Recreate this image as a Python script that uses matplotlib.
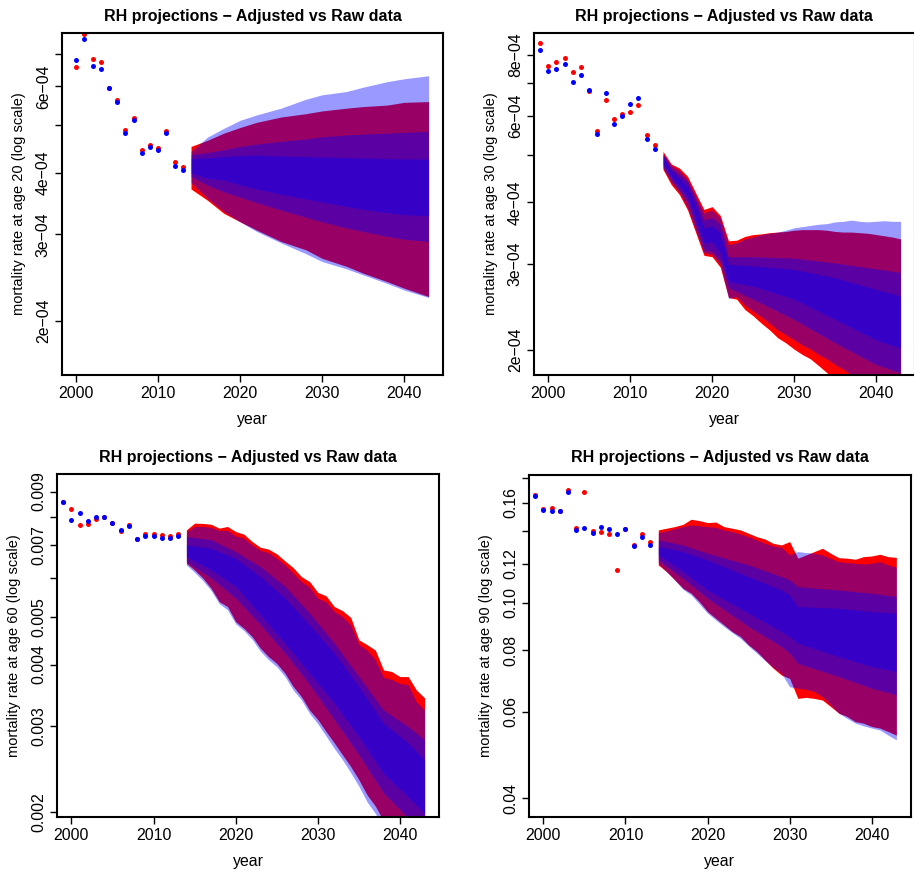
#%%
import matplotlib
matplotlib.use("Agg")
import matplotlib.pyplot as plt
from matplotlib.ticker import NullLocator

# %% Data
# red = raw data, blue = adjusted data
# observed rates plus projection fans (outer edges and two inner bands of the blue fan)

# ---- age 20
age20_obs_years = [2000, 2001, 2002, 2003, 2004, 2005, 2006, 2007, 2008, 2009, 2010, 2011, 2012, 2013]
age20_raw = [6.58e-4, 7.68e-4, 6.83e-4, 6.74e-4, 5.96e-4, 5.63e-4, 4.90e-4, 5.18e-4, 4.46e-4, 4.55e-4, 4.49e-4, 4.86e-4, 4.21e-4, 4.11e-4]
age20_adj = [6.80e-4, 7.48e-4, 6.59e-4, 6.51e-4, 5.96e-4, 5.58e-4, 4.83e-4, 5.12e-4, 4.40e-4, 4.51e-4, 4.45e-4, 4.82e-4, 4.13e-4, 4.06e-4]

age20_fan_years = [2014, 2016, 2018, 2020, 2022, 2025, 2028, 2030, 2033, 2035, 2038, 2040, 2043]
age20_raw_hi = [4.53e-4, 4.66e-4, 4.82e-4, 4.95e-4, 5.07e-4, 5.20e-4, 5.28e-4, 5.35e-4, 5.42e-4, 5.46e-4, 5.50e-4, 5.57e-4, 5.59e-4]
age20_raw_lo = [3.71e-4, 3.52e-4, 3.31e-4, 3.18e-4, 3.06e-4, 2.90e-4, 2.79e-4, 2.68e-4, 2.58e-4, 2.50e-4, 2.40e-4, 2.33e-4, 2.24e-4]
age20_adj_hi95 = [4.42e-4, 4.73e-4, 4.93e-4, 5.12e-4, 5.25e-4, 5.42e-4, 5.65e-4, 5.77e-4, 5.86e-4, 5.98e-4, 6.14e-4, 6.22e-4, 6.31e-4]
age20_adj_lo95 = [3.82e-4, 3.55e-4, 3.34e-4, 3.18e-4, 3.04e-4, 2.88e-4, 2.74e-4, 2.64e-4, 2.55e-4, 2.48e-4, 2.38e-4, 2.31e-4, 2.23e-4]
age20_band_years = age20_fan_years
age20_adj_hi80 = [4.36e-4, 4.40e-4, 4.46e-4, 4.53e-4, 4.58e-4, 4.64e-4, 4.69e-4, 4.74e-4, 4.78e-4, 4.80e-4, 4.82e-4, 4.84e-4, 4.86e-4]
age20_adj_lo80 = [3.93e-4, 3.78e-4, 3.66e-4, 3.57e-4, 3.48e-4, 3.36e-4, 3.25e-4, 3.18e-4, 3.09e-4, 3.04e-4, 2.97e-4, 2.93e-4, 2.90e-4]
age20_adj_hi50 = [4.28e-4, 4.29e-4, 4.32e-4, 4.34e-4, 4.35e-4, 4.33e-4, 4.32e-4, 4.31e-4, 4.30e-4, 4.29e-4, 4.28e-4, 4.27e-4, 4.27e-4]
age20_adj_lo50 = [4.00e-4, 3.90e-4, 3.87e-4, 3.78e-4, 3.71e-4, 3.62e-4, 3.54e-4, 3.49e-4, 3.42e-4, 3.37e-4, 3.32e-4, 3.29e-4, 3.27e-4]

age20_ylim = (1.55e-4, 7.71e-4)
age20_yticks = [2e-4, 3e-4, 4e-4, 5e-4, 6e-4, 7e-4]
age20_ylabels = ["2e\u221204", "3e\u221204", "4e\u221204", "", "6e\u221204", ""]

# ---- age 30
age30_obs_years = [1999, 2000, 2001, 2002, 2003, 2004, 2005, 2006, 2007, 2008, 2009, 2010, 2011, 2012, 2013]
age30_raw = [8.44e-4, 7.57e-4, 7.74e-4, 7.89e-4, 7.38e-4, 7.54e-4, 6.74e-4, 5.58e-4, 6.48e-4, 5.90e-4, 6.04e-4, 6.12e-4, 6.32e-4, 5.49e-4, 5.23e-4]
age30_adj = [8.19e-4, 7.41e-4, 7.49e-4, 7.65e-4, 7.04e-4, 7.28e-4, 6.79e-4, 5.51e-4, 6.67e-4, 5.78e-4, 5.99e-4, 6.35e-4, 6.52e-4, 5.38e-4, 5.14e-4]

age30_fan_years = [2014, 2015, 2016, 2017, 2018, 2019, 2020, 2021, 2022, 2023, 2024, 2025, 2026, 2027, 2028,
                   2029, 2030, 2031, 2032, 2033, 2034, 2035, 2036, 2037, 2038, 2039, 2040, 2041, 2042, 2043]
age30_raw_hi = [5.08e-4, 4.79e-4, 4.70e-4, 4.52e-4, 4.18e-4, 3.87e-4, 3.92e-4, 3.76e-4, 3.34e-4, 3.35e-4,
                3.41e-4, 3.44e-4, 3.45e-4, 3.47e-4, 3.48e-4, 3.49e-4, 3.51e-4, 3.52e-4, 3.52e-4, 3.52e-4,
                3.51e-4, 3.49e-4, 3.48e-4, 3.48e-4, 3.47e-4, 3.46e-4, 3.44e-4, 3.42e-4, 3.40e-4, 3.37e-4]
age30_raw_lo = [4.67e-4, 4.35e-4, 4.15e-4, 3.86e-4, 3.47e-4, 3.12e-4, 3.10e-4, 2.95e-4, 2.56e-4, 2.54e-4,
                2.42e-4, 2.35e-4, 2.27e-4, 2.20e-4, 2.12e-4, 2.07e-4, 2.01e-4, 1.96e-4, 1.92e-4, 1.86e-4,
                1.80e-4, 1.74e-4, 1.69e-4, 1.64e-4, 1.59e-4, 1.54e-4, 1.49e-4, 1.45e-4, 1.40e-4, 1.36e-4]
age30_adj_hi95 = [5.03e-4, 4.76e-4, 4.65e-4, 4.45e-4, 4.12e-4, 3.81e-4, 3.86e-4, 3.72e-4, 3.28e-4, 3.31e-4,
                  3.37e-4, 3.40e-4, 3.44e-4, 3.46e-4, 3.48e-4, 3.51e-4, 3.55e-4, 3.57e-4, 3.59e-4, 3.61e-4,
                  3.62e-4, 3.65e-4, 3.66e-4, 3.68e-4, 3.66e-4, 3.65e-4, 3.66e-4, 3.67e-4, 3.66e-4, 3.66e-4]
age30_adj_lo95 = [4.70e-4, 4.40e-4, 4.20e-4, 3.90e-4, 3.51e-4, 3.16e-4, 3.13e-4, 2.99e-4, 2.55e-4, 2.57e-4,
                  2.47e-4, 2.40e-4, 2.34e-4, 2.27e-4, 2.20e-4, 2.15e-4, 2.10e-4, 2.05e-4, 2.01e-4, 1.96e-4,
                  1.92e-4, 1.87e-4, 1.83e-4, 1.78e-4, 1.74e-4, 1.70e-4, 1.66e-4, 1.62e-4, 1.59e-4, 1.55e-4]
age30_band_years = [2014, 2015, 2017, 2018, 2019, 2020, 2021, 2022, 2025, 2030, 2035, 2040, 2043]
age30_adj_hi80 = [5.01e-4, 4.70e-4, 4.42e-4, 4.05e-4, 3.69e-4, 3.72e-4, 3.61e-4, 3.10e-4, 3.10e-4, 3.08e-4, 3.01e-4, 2.93e-4, 2.88e-4]
age30_adj_lo80 = [4.74e-4, 4.45e-4, 4.02e-4, 3.58e-4, 3.20e-4, 3.18e-4, 3.04e-4, 2.68e-4, 2.54e-4, 2.31e-4, 2.07e-4, 1.87e-4, 1.80e-4]
age30_adj_hi50 = [4.97e-4, 4.65e-4, 4.32e-4, 3.93e-4, 3.55e-4, 3.58e-4, 3.47e-4, 2.99e-4, 2.97e-4, 2.92e-4, 2.81e-4, 2.66e-4, 2.58e-4]
age30_adj_lo50 = [4.80e-4, 4.52e-4, 4.12e-4, 3.69e-4, 3.31e-4, 3.32e-4, 3.16e-4, 2.76e-4, 2.70e-4, 2.54e-4, 2.31e-4, 2.10e-4, 2.02e-4]

age30_ylim = (1.78e-4, 8.85e-4)
age30_yticks = [2e-4, 3e-4, 4e-4, 5e-4, 6e-4, 7e-4, 8e-4]
age30_ylabels = ["2e\u221204", "3e\u221204", "4e\u221204", "", "6e\u221204", "", "8e\u221204"]

# ---- age 60
age60_obs_years = [1999, 2000, 2001, 2002, 2003, 2004, 2005, 2006, 2007, 2008, 2009, 2010, 2011, 2012, 2013]
age60_raw = [0.00855, 0.00830, 0.00771, 0.00772, 0.00791, 0.00798, 0.00775, 0.00748, 0.00771, 0.00721, 0.00738, 0.00739, 0.00735, 0.00731, 0.00739]
age60_adj = [0.00855, 0.00788, 0.00812, 0.00784, 0.00797, 0.00797, 0.00775, 0.00753, 0.00764, 0.00720, 0.00729, 0.00729, 0.00725, 0.00723, 0.00732]

age60_fan_years = age30_fan_years
age60_raw_hi = [0.00752, 0.00776, 0.00775, 0.00772, 0.00758, 0.00764, 0.00746, 0.00737, 0.00712, 0.00693,
                0.00687, 0.00672, 0.00650, 0.00630, 0.00604, 0.00590, 0.00561, 0.00552, 0.00525, 0.00515,
                0.00499, 0.00449, 0.00439, 0.00428, 0.00390, 0.00387, 0.00378, 0.00378, 0.00355, 0.00342]
age60_raw_lo = [0.00643, 0.00623, 0.00600, 0.00572, 0.00537, 0.00525, 0.00489, 0.00474, 0.00456, 0.00432,
                0.00415, 0.00402, 0.00384, 0.00361, 0.00344, 0.00323, 0.00309, 0.00292, 0.00277, 0.00262,
                0.00248, 0.00233, 0.00217, 0.00206, 0.00192, 0.00180, 0.00169, 0.00160, 0.00150, 0.00141]
age60_adj_hi95 = [0.00746, 0.00764, 0.00764, 0.00761, 0.00750, 0.00750, 0.00731, 0.00723, 0.00701, 0.00683,
                  0.00676, 0.00658, 0.00638, 0.00614, 0.00590, 0.00575, 0.00546, 0.00537, 0.00513, 0.00501,
                  0.00482, 0.00439, 0.00428, 0.00409, 0.00377, 0.00373, 0.00366, 0.00364, 0.00336, 0.00323]
age60_adj_lo95 = [0.00638, 0.00616, 0.00593, 0.00566, 0.00532, 0.00517, 0.00484, 0.00469, 0.00450, 0.00426,
                  0.00409, 0.00396, 0.00378, 0.00355, 0.00339, 0.00318, 0.00303, 0.00286, 0.00270, 0.00256,
                  0.00241, 0.00226, 0.00210, 0.00199, 0.00186, 0.00175, 0.00164, 0.00155, 0.00146, 0.00137]
age60_band_years = [2014, 2017, 2020, 2023, 2026, 2029, 2032, 2035, 2038, 2041, 2043]
age60_adj_hi80 = [0.00729, 0.00718, 0.00679, 0.00633, 0.00577, 0.00509, 0.00442, 0.00378, 0.00323, 0.00299, 0.00281]
age60_adj_lo80 = [0.00648, 0.00600, 0.00546, 0.00482, 0.00422, 0.00364, 0.00309, 0.00262, 0.00219, 0.00195, 0.00179]
age60_adj_hi50 = [0.00701, 0.00690, 0.00658, 0.00604, 0.00546, 0.00482, 0.00422, 0.00361, 0.00304, 0.00277, 0.00256]
age60_adj_lo50 = [0.00664, 0.00623, 0.00577, 0.00505, 0.00442, 0.00384, 0.00334, 0.00285, 0.00240, 0.00215, 0.00199]

age60_ylim = (0.00196, 0.00976)
age60_yticks = [0.002, 0.003, 0.004, 0.005, 0.006, 0.007, 0.008, 0.009]
age60_ylabels = ["0.002", "0.003", "0.004", "0.005", "", "0.007", "", "0.009"]

# ---- age 90
age90_obs_years = [1999, 2000, 2001, 2002, 2003, 2004, 2005, 2006, 2007, 2008, 2009, 2010, 2011, 2012, 2013]
age90_raw = [0.1661, 0.1553, 0.1560, 0.1541, 0.1698, 0.1421, 0.1685, 0.1403, 0.1392, 0.1379, 0.1167, 0.1412, 0.1310, 0.1384, 0.1331]
age90_adj = [0.1648, 0.1546, 0.1536, 0.1541, 0.1685, 0.1408, 0.1419, 0.1386, 0.1425, 0.1416, 0.1384, 0.1416, 0.1306, 0.1360, 0.1310]

age90_fan_years = age30_fan_years
age90_raw_hi = [0.1408, 0.1419, 0.1430, 0.1445, 0.1480, 0.1471, 0.1457, 0.1461, 0.1430, 0.1419,
                0.1408, 0.1386, 0.1364, 0.1349, 0.1322, 0.1312, 0.1333, 0.1233, 0.1252, 0.1272,
                0.1292, 0.1262, 0.1236, 0.1233, 0.1227, 0.1242, 0.1246, 0.1256, 0.1242, 0.1238]
age90_raw_lo = [0.1195, 0.1158, 0.1114, 0.1071, 0.1046, 0.1006, 0.0960, 0.0930, 0.0902, 0.0874,
                0.0854, 0.0821, 0.0796, 0.0765, 0.0736, 0.0713, 0.0702, 0.0639, 0.0642, 0.0639,
                0.0634, 0.0615, 0.0596, 0.0587, 0.0573, 0.0569, 0.0560, 0.0556, 0.0547, 0.0538]
age90_adj_hi95 = [0.1390, 0.1401, 0.1416, 0.1430, 0.1441, 0.1436, 0.1430, 0.1425, 0.1408, 0.1397,
                  0.1381, 0.1364, 0.1343, 0.1322, 0.1306, 0.1298, 0.1252, 0.1272, 0.1266, 0.1262,
                  0.1252, 0.1233, 0.1213, 0.1208, 0.1204, 0.1200, 0.1204, 0.1213, 0.1195, 0.1182]
age90_adj_lo95 = [0.1204, 0.1158, 0.1114, 0.1066, 0.1038, 0.0995, 0.0953, 0.0923, 0.0895, 0.0870,
                  0.0847, 0.0817, 0.0790, 0.0763, 0.0739, 0.0719, 0.0675, 0.0670, 0.0667, 0.0660,
                  0.0644, 0.0620, 0.0596, 0.0582, 0.0569, 0.0562, 0.0556, 0.0551, 0.0538, 0.0526]
age90_band_years = [2014, 2017, 2020, 2025, 2029, 2030, 2031, 2036, 2040, 2043]
age90_adj_hi80 = [0.1343, 0.1312, 0.1262, 0.1195, 0.1131, 0.1114, 0.1079, 0.1062, 0.1046, 0.1030]
age90_adj_lo80 = [0.1223, 0.1122, 0.1022, 0.0895, 0.0815, 0.0790, 0.0753, 0.0708, 0.0670, 0.0650]
age90_adj_hi50 = [0.1302, 0.1272, 0.1223, 0.1131, 0.1062, 0.1038, 0.0983, 0.0975, 0.0960, 0.0953]
age90_adj_lo50 = [0.1252, 0.1158, 0.1062, 0.0953, 0.0874, 0.0854, 0.0828, 0.0777, 0.0742, 0.0725]

age90_ylim = (0.0367, 0.1822)
age90_yticks = [0.04, 0.06, 0.08, 0.10, 0.12, 0.14, 0.16, 0.18]
age90_ylabels = ["0.04", "0.06", "0.08", "0.10", "0.12", "", "0.16", ""]

x_ticks = [2000, 2010, 2020, 2030, 2040]
title = "RH projections \u2212 Adjusted vs Raw data"

# %% Plot
plt.rcParams["font.family"] = "Liberation Sans"
fig = plt.figure(figsize=(9.14, 8.74), dpi=100)


def fan_panel(rect, age, obs_years, raw, adj, fan_years, raw_lo, raw_hi, adj_lo95, adj_hi95,
              band_years, adj_lo80, adj_hi80, adj_lo50, adj_hi50, ylim, yticks, ylabels):
    ax = fig.add_axes(rect)
    # red fan first (opaque), blue fan on top with transparency
    ax.fill_between(fan_years, raw_lo, raw_hi, color="red", lw=0)
    ax.fill_between(fan_years, adj_lo95, adj_hi95, color="blue", alpha=0.4, lw=0)
    ax.fill_between(band_years, adj_lo80, adj_hi80, color="blue", alpha=0.4, lw=0)
    ax.fill_between(band_years, adj_lo50, adj_hi50, color="blue", alpha=0.4, lw=0)
    ax.plot(obs_years, raw, "o", color="red", ms=3.6, mec="none")
    ax.plot(obs_years, adj, "o", color="blue", ms=3.6, mec="none")

    ax.set_yscale("log")
    ax.set_xlim(1998.25, 2044.75)
    ax.set_ylim(*ylim)
    ax.set_xticks(x_ticks)
    ax.set_yticks(yticks)
    ax.set_yticklabels(ylabels, rotation=90, va="center")
    ax.yaxis.set_minor_locator(NullLocator())
    ax.tick_params(direction="out", length=5, width=1, labelsize=11.4, pad=3)
    for sp in ax.spines.values():
        sp.set_linewidth(1.5)

    ax.set_title(title, fontsize=11.5, fontweight="bold", pad=9)
    ax.set_xlabel("year", fontsize=11.4, labelpad=8)
    ax.set_ylabel(f"mortality rate at age {age} (log scale)", fontsize=10.5, labelpad=7)
    return ax


fan_panel([0.0678, 0.5709, 0.4168, 0.3913], 20, age20_obs_years, age20_raw, age20_adj,
          age20_fan_years, age20_raw_lo, age20_raw_hi, age20_adj_lo95, age20_adj_hi95,
          age20_band_years, age20_adj_lo80, age20_adj_hi80, age20_adj_lo50, age20_adj_hi50,
          age20_ylim, age20_yticks, age20_ylabels)
fan_panel([0.5842, 0.5709, 0.4168, 0.3913], 30, age30_obs_years, age30_raw, age30_adj,
          age30_fan_years, age30_raw_lo, age30_raw_hi, age30_adj_lo95, age30_adj_hi95,
          age30_band_years, age30_adj_lo80, age30_adj_hi80, age30_adj_lo50, age30_adj_hi50,
          age30_ylim, age30_yticks, age30_ylabels)
fan_panel([0.0624, 0.0656, 0.4179, 0.3918], 60, age60_obs_years, age60_raw, age60_adj,
          age60_fan_years, age60_raw_lo, age60_raw_hi, age60_adj_lo95, age60_adj_hi95,
          age60_band_years, age60_adj_lo80, age60_adj_hi80, age60_adj_lo50, age60_adj_hi50,
          age60_ylim, age60_yticks, age60_ylabels)
fan_panel([0.5788, 0.0656, 0.4176, 0.3910], 90, age90_obs_years, age90_raw, age90_adj,
          age90_fan_years, age90_raw_lo, age90_raw_hi, age90_adj_lo95, age90_adj_hi95,
          age90_band_years, age90_adj_lo80, age90_adj_hi80, age90_adj_lo50, age90_adj_hi50,
          age90_ylim, age90_yticks, age90_ylabels)

fig.savefig("out.png", dpi=100)
